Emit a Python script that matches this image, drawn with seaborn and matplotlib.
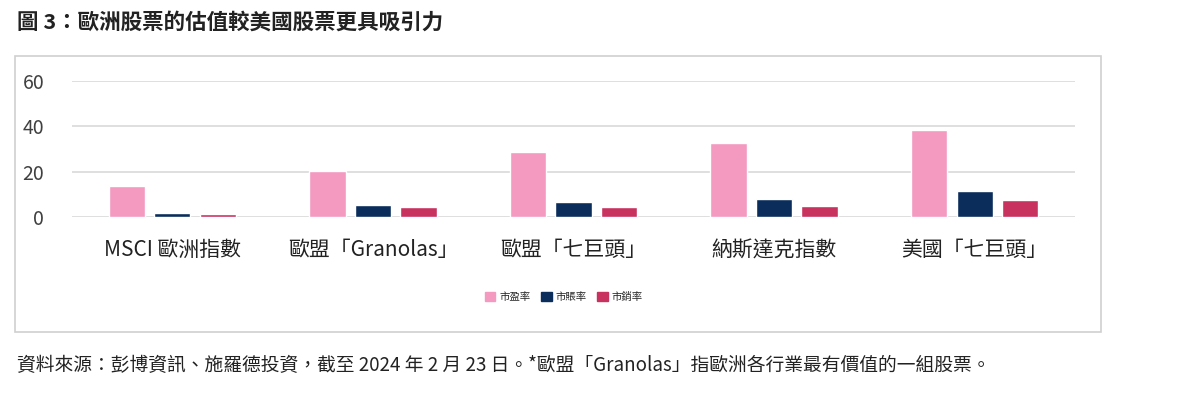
import matplotlib
matplotlib.use("Agg")
import matplotlib.pyplot as plt
import matplotlib.patches as mpatches
import pandas as pd
import seaborn as sns

categories = ["MSCI 歐洲指數", "歐盟「Granolas」", "歐盟「七巨頭」", "納斯達克指數", "美國「七巨頭」"]
series = ["市盈率", "市賬率", "市銷率"]
pe = [13.5, 20.3, 28.5, 32.5, 38.5]
pb = [1.9, 5.5, 6.5, 8.0, 11.5]
ps = [1.4, 4.5, 4.2, 5.0, 7.5]
colors = ["#F49AC1", "#0B2D5B", "#C8325F"]

df = pd.DataFrame({
    "cat": categories * 3,
    "series": [s for s in series for _ in categories],
    "value": pe + pb + ps,
})

sns.set_theme(style="white")
plt.rcParams["font.family"] = ["Noto Sans CJK TC", "DejaVu Sans"]

fig = plt.figure(figsize=(12, 4.04), dpi=100)
ax = fig.add_axes([72 / 1200, 1 - 217 / 404, 1003 / 1200, 136 / 404])

sns.barplot(data=df, x="cat", y="value", hue="series", palette=colors,
            width=0.68, gap=0.2, ax=ax, legend=False, saturation=1)

ax.set_ylim(0, 60)
ax.set_xlim(-0.5, 4.5)
ax.set_yticks([0, 20, 40, 60])
ax.yaxis.grid(True, color="#d9d9d9", linewidth=1.2)
ax.set_axisbelow(True)
for s in ax.spines.values():
    s.set_visible(False)
ax.tick_params(axis="y", labelsize=14, colors="#404040", length=0, pad=20)
ax.tick_params(axis="x", labelsize=15, colors="#222222", length=0, pad=16)
ax.set_xlabel("")
ax.set_ylabel("")

handles = [mpatches.Patch(color=c, label=s) for c, s in zip(colors, series)]
fig.legend(handles=handles, loc="center", bbox_to_anchor=(0.47, 1 - 297 / 404),
           ncol=3, frameon=False, fontsize=7.5, handlelength=1.0, handleheight=1.0,
           columnspacing=1.0, handletextpad=0.4)

# outer frame
fig.patches.append(mpatches.Rectangle((15 / 1200, 1 - 332 / 404), 1086 / 1200, 276 / 404,
                                      transform=fig.transFigure, fill=False,
                                      edgecolor="#d0d0d0", linewidth=1.2))

fig.text(17 / 1200, 1 - 22 / 404, "圖 3：歐洲股票的估值較美國股票更具吸引力",
         fontsize=15.5, fontweight="bold", va="center", ha="left", color="#222222")
fig.text(17 / 1200, 1 - 366 / 404,
         "資料來源：彭博資訊、施羅德投資，截至 2024 年 2 月 23 日。*歐盟「Granolas」指歐洲各行業最有價值的一組股票。",
         fontsize=13.5, va="center", ha="left", color="#222222")

fig.savefig("out.png", dpi=100, facecolor="white")
